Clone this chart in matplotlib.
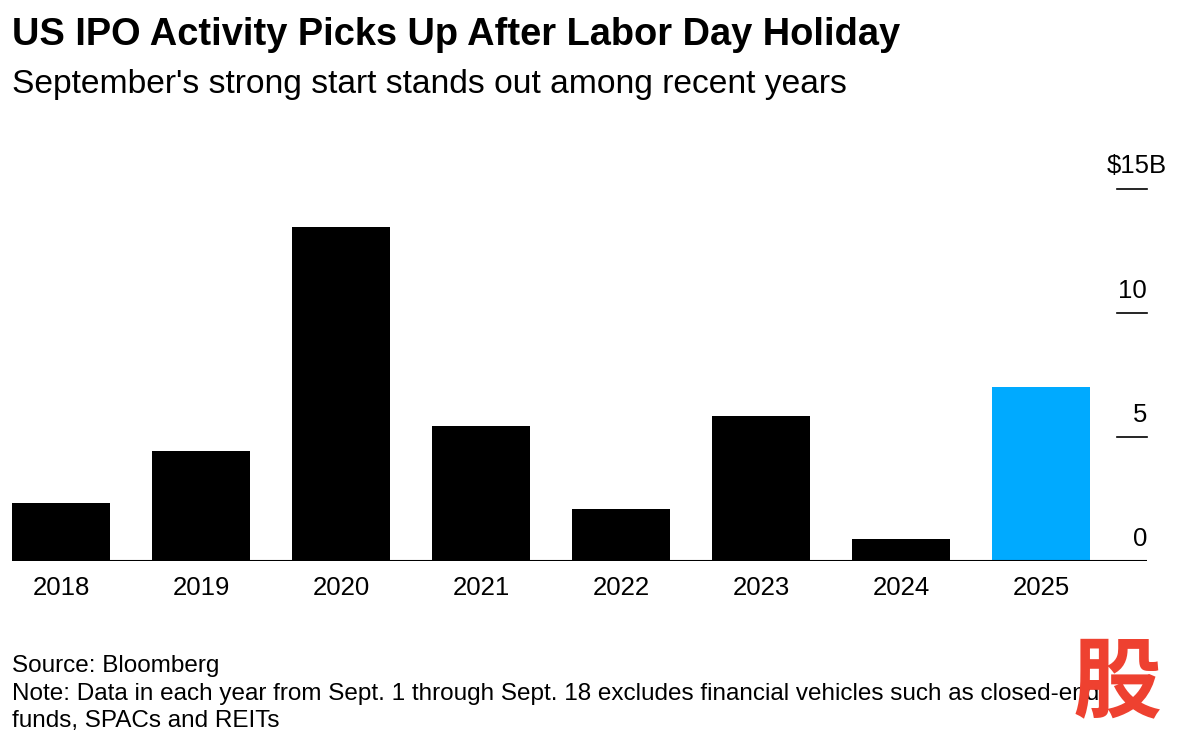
import matplotlib
matplotlib.use("Agg")
import matplotlib.pyplot as plt
import matplotlib.transforms as mtransforms

years = ["2018", "2019", "2020", "2021", "2022", "2023", "2024", "2025"]
ipo_bn = [2.35, 4.45, 13.45, 5.45, 2.1, 5.85, 0.9, 7.0]
bar_colors = ["#000000"] * 7 + ["#00aaff"]
y_ticks = [0, 5, 10, 15]
y_tick_labels = ["0", "5", "10", "$15B"]

W, H = 1182, 738
plt.rcParams["font.family"] = ["Liberation Sans", "DejaVu Sans"]

fig = plt.figure(figsize=(W / 100, H / 100), dpi=100)
# axes in pixel positions: x 12..1147, y 189..561
ax = fig.add_axes([12 / W, (H - 561) / H, (1147 - 12) / W, (561 - 189) / H])

xs = list(range(len(years)))
ax.bar(xs, ipo_bn, width=0.7, color=bar_colors, zorder=2)
ax.set_xlim(-0.35, (1147 - 61) / 140)
ax.set_ylim(0, 15)

for s in ax.spines.values():
    s.set_visible(False)
ax.set_yticks([])
ax.set_xticks(xs)
ax.set_xticklabels(years, fontsize=18.5)
ax.tick_params(axis="x", length=0, pad=11)

ax.axhline(0, color="black", lw=1.5, zorder=3)

# right-side ticks and labels
tr = mtransforms.blended_transform_factory(ax.transAxes, ax.transData)
x0 = (1117 - 12) / (1147 - 12)
for v, lab in zip(y_ticks, y_tick_labels):
    if v > 0:
        ax.plot([x0, 1.0], [v, v], color="black", lw=1.2, transform=tr, clip_on=False)
    if lab.startswith("$"):
        ax.text((1107 - 12) / (1147 - 12), v + 0.45, lab, transform=tr, ha="left",
                va="bottom", fontsize=18.5)
    else:
        ax.text(1.0, v + 0.42, lab, transform=tr, ha="right", va="bottom", fontsize=18.5)

fig.text(12 / W, 1 - 35 / H, "US IPO Activity Picks Up After Labor Day Holiday",
         fontsize=27.4, fontweight="bold", va="center", ha="left")
fig.text(12 / W, 1 - 84 / H, "September's strong start stands out among recent years",
         fontsize=24.2, va="center", ha="left")

fig.text(12 / W, 1 - 666 / H, "Source: Bloomberg", fontsize=17.5, va="center", ha="left")
fig.text(12 / W, 1 - 694 / H,
         "Note: Data in each year from Sept. 1 through Sept. 18 excludes financial vehicles such as closed-end",
         fontsize=17.5, va="center", ha="left")
fig.text(12 / W, 1 - 721 / H, "funds, SPACs and REITs", fontsize=17.5, va="center", ha="left")

fig.text(1117 / W, 1 - 684 / H, "股", fontsize=64, fontweight="bold", color="#ee4130",
         family=["Noto Sans CJK SC"], ha="center", va="center")

fig.savefig("out.png", dpi=100)
